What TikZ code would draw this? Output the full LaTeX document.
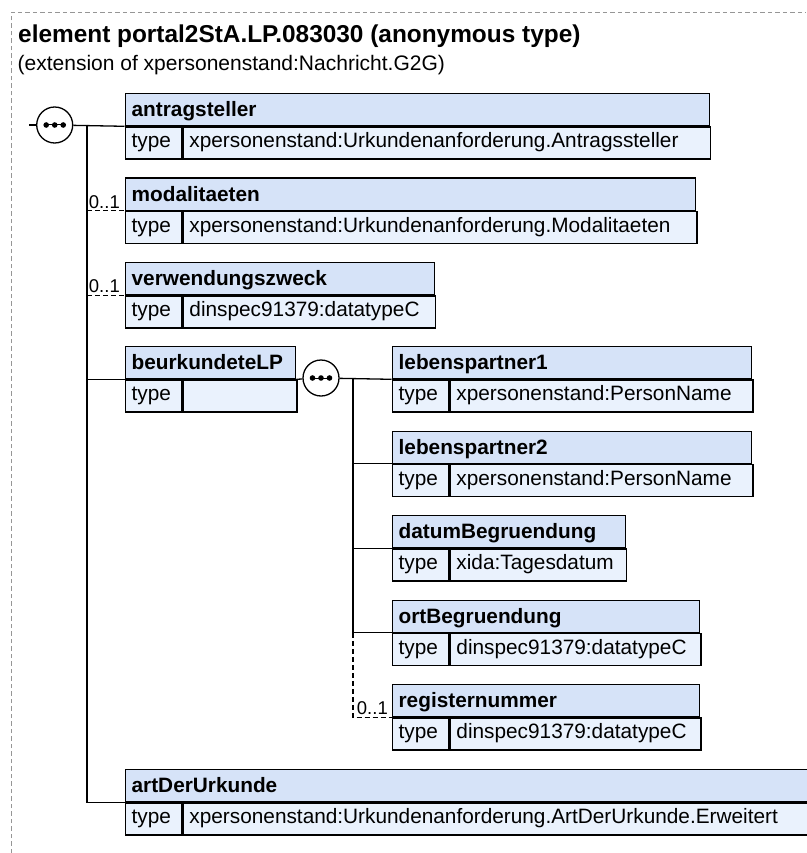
\documentclass[tikz,border=0pt]{standalone}
\usepackage{fontspec}
\setmainfont{Liberation Sans}
\usetikzlibrary{calc}
\definecolor{hdrfill}{RGB}{214,227,248}
\definecolor{rowfill}{RGB}{234,242,253}
\definecolor{framegray}{RGB}{150,150,150}
\newcommand\boxfont{\fontsize{20.8}{24}\selectfont}
\newcommand\xelem[6]{%
  \pgfmathsetmacro\xeTW{#4-13}%
  \pgfmathsetmacro\xeVT{#4-56.5-13}%
  \node[hdrbox, text width=\xeTW pt] (#1) at (#2,#3) {#5};
  \node[typbox] (#1-t) at (#1.south west) {type};
  \node[valbox, text width=\xeVT pt] (#1-v) at (#1-t.north east) {#6};
}
\tikzset{
  hdrbox/.style={draw=black, line width=1.3pt, fill=hdrfill, anchor=north west,
    inner xsep=6.5pt, inner ysep=0pt, minimum height=32pt, text height=17pt,
    text depth=3pt, font=\boxfont\bfseries, align=left},
  valbox/.style={draw=black, line width=1.3pt, fill=rowfill, anchor=north west,
    inner xsep=6.5pt, inner ysep=0pt, minimum height=32pt, text height=15pt,
    text depth=5pt, font=\boxfont, align=left},
  typbox/.style={valbox, text width=43.5pt},
  conn/.style={draw=black, line width=1.3pt},
  optconn/.style={conn, dash pattern=on 5pt off 3pt},
  card/.style={inner sep=0pt, font=\fontsize{18.5}{22}\selectfont},
  frameline/.style={draw=framegray, line width=1pt, dash pattern=on 4.5pt off 3pt},
  seqsym/.style={circle, draw=black, fill=white, line width=1.3pt, minimum size=36pt,
    inner sep=0pt,
    path picture={
      \draw[black, line width=1pt] ([xshift=-11pt]path picture bounding box.center) -- ([xshift=11pt]path picture bounding box.center);
      \fill[black] ([xshift=-8.5pt]path picture bounding box.center) circle (2.8pt);
      \fill[black] (path picture bounding box.center) circle (2.8pt);
      \fill[black] ([xshift=8.5pt]path picture bounding box.center) circle (2.8pt);
    }},
}
\begin{document}
\begin{tikzpicture}[x=1pt,y=-1pt]
\useasboundingbox (0,0) rectangle (806,853);
% frame
\coordinate (fb) at (11,853);
\coordinate (fc) at (11,12.3);
\coordinate (fr) at (806,12.3);
\draw[frameline] (fb) -- (fc) -- (fr);
% titles
\node[anchor=base west, inner sep=0pt, font=\fontsize{24.4}{28}\selectfont\bfseries] (title) at (18,43) {element portal2StA.LP.083030 (anonymous type)};
\node[anchor=base west, inner sep=0pt, font=\fontsize{21}{25}\selectfont] (subtitle) at (17.5,71) {(extension of xpersonenstand:Nachricht.G2G)};
% first level elements
\xelem{ant}{124.5}{93}{584}{antragsteller}{xpersonenstand:Urkundenanforderung.Antragssteller}
\xelem{mod}{124.5}{177.5}{570.5}{modalitaeten}{xpersonenstand:Urkundenanforderung.Modalitaeten}
\xelem{ver}{124.5}{262}{309}{verwendungszweck}{dinspec91379:datatypeC}
\xelem{blp}{124.5}{346}{170.5}{beurkundeteLP}{}
\xelem{art}{124.5}{769}{686}{artDerUrkunde}{xpersonenstand:Urkundenanforderung.ArtDerUrkunde.Erweitert}
% second level elements
\xelem{lp1}{391.5}{346}{359.5}{lebenspartner1}{xpersonenstand:PersonName}
\xelem{lp2}{391.5}{430.5}{359.5}{lebenspartner2}{xpersonenstand:PersonName}
\xelem{dat}{391.5}{515}{233}{datumBegruendung}{xida:Tagesdatum}
\xelem{ort}{391.5}{599.5}{307.5}{ortBegruendung}{dinspec91379:datatypeC}
\xelem{reg}{391.5}{684}{307.5}{registernummer}{dinspec91379:datatypeC}
% sequence symbols
\node[seqsym] (s1) at (54.7,125) {};
\node[seqsym] (s2) at (321,378) {};
% connectors level 1
\coordinate (in1) at (29,125);
\coordinate (j1) at (87,125);
\draw[conn] (in1) -- (s1);
\draw[conn] (s1) -- (ant.south west);
\draw[conn] (j1) -- (j1 |- art.south west) -- (art.south west);
\draw[optconn] (j1 |- mod.south west) -- (mod.south west);
\draw[optconn] (j1 |- ver.south west) -- (ver.south west);
\draw[conn] (j1 |- blp.south west) -- (blp.south west);
% connectors level 2
\coordinate (j2) at (353,378);
\draw[conn] (blp.south east) -- (s2);
\draw[conn] (s2) -- (lp1.south west);
\draw[conn] (j2) -- (j2 |- ort.south west);
\draw[conn] (j2 |- lp2.south west) -- (lp2.south west);
\draw[conn] (j2 |- dat.south west) -- (dat.south west);
\draw[conn] (j2 |- ort.south west) -- (ort.south west);
\draw[optconn] (j2 |- ort.south west) -- (j2 |- reg.south west) -- (reg.south west);
% cardinalities
\node[card, anchor=base east] (mod-c) at ([xshift=-4.5pt, yshift=2.7pt]mod.south west) {0..1};
\node[card, anchor=base east] (ver-c) at ([xshift=-4.5pt, yshift=2.7pt]ver.south west) {0..1};
\node[card, anchor=base east] (reg-c) at ([xshift=-3.5pt, yshift=2.7pt]reg.south west) {0..1};
\end{tikzpicture}
\end{document}
